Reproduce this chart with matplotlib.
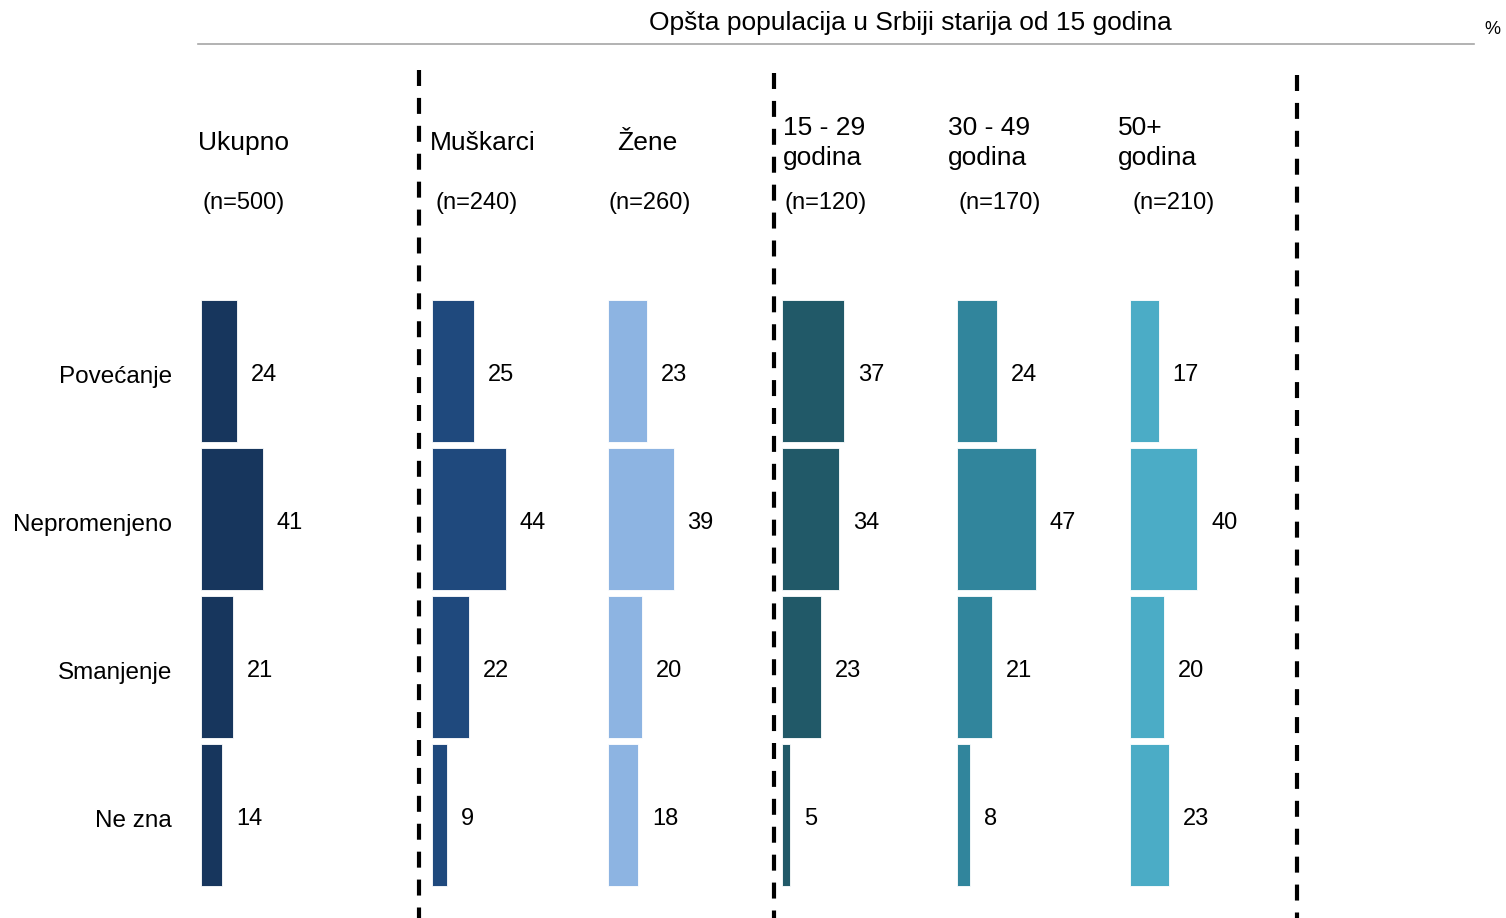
import matplotlib
matplotlib.use("Agg")
import matplotlib.pyplot as plt
from matplotlib.lines import Line2D
from matplotlib.transforms import ScaledTranslation

plt.rcParams['font.family'] = ['Liberation Sans', 'DejaVu Sans']
plt.rcParams['lines.scale_dashes'] = False

W, H = 1506, 918

# data
categories = ["Povećanje", "Nepromenjeno", "Smanjenje", "Ne zna"]
groups = ["Ukupno", "Muškarci", "Žene", "15 - 29\ngodina", "30 - 49\ngodina", "50+\ngodina"]
sample_sizes = ["(n=500)", "(n=240)", "(n=260)", "(n=120)", "(n=170)", "(n=210)"]
ukupno = [24, 41, 21, 14]
muskarci = [25, 44, 22, 9]
zene = [23, 39, 20, 18]
age_15_29 = [37, 34, 23, 5]
age_30_49 = [24, 47, 21, 8]
age_50 = [17, 40, 20, 23]
series = [ukupno, muskarci, zene, age_15_29, age_30_49, age_50]

colors = ["#17365d", "#1f497d", "#8db4e2", "#215968", "#31859c", "#4bacc6"]
bar_left = [201, 432, 608, 782, 957, 1130]      # px where bars start
px_per_unit = [1.5, 1.68, 1.68, 1.68, 1.68, 1.68]
head_x = [198, 430, 617, 783, 948, 1118]
n_x = [203, 435, 609, 784, 958, 1133]

fs_val = 17
fs_head = 19

fig = plt.figure(figsize=(W / 100, H / 100), dpi=100)


def fx(px):
    return px / W


def fy(py):
    return 1 - py / H


ax_top, ax_bot = 297, 889
ax_w = 150
for k, vals in enumerate(series):
    ax = fig.add_axes([fx(bar_left[k]), fy(ax_bot), ax_w / W, (ax_bot - ax_top) / H])
    ypos = list(range(len(categories)))
    ax.barh(ypos, vals, height=0.96, color=colors[k], edgecolor='white', linewidth=0.6)
    ax.set_xlim(0, ax_w / px_per_unit[k])
    ax.set_ylim(len(categories) - 0.5, -0.5)
    for i, v in enumerate(vals):
        ax.annotate(str(v), (v, i), xytext=(10, -3), textcoords='offset points',
                    va='center', ha='left', fontsize=fs_val)
    for s in ax.spines.values():
        s.set_visible(False)
    ax.set_xticks([])
    if k == 0:
        ax.set_yticks(ypos)
        ax.set_yticklabels(categories, fontsize=17.5, va='center')
        ax.tick_params(axis='y', length=0, pad=21)
        # nudge the row labels down a little
        for lab in ax.get_yticklabels():
            lab.set_transform(lab.get_transform() + ScaledTranslation(0, -6 / 100, fig.dpi_scale_trans))
    else:
        ax.set_yticks([])
    ax.patch.set_alpha(0)

    # headers
    fig.text(fx(head_x[k]), fy(143), groups[k], fontsize=fs_head, ha='left', va='center',
             linespacing=1.3)
    fig.text(fx(n_x[k]), fy(203), sample_sizes[k], fontsize=fs_val, ha='left', va='center')

# title and rule
fig.text(fx(910), fy(23), "Opšta populacija u Srbiji starija od 15 godina",
         fontsize=fs_head, ha='center', va='center')
fig.text(fx(1484), fy(30), "%", fontsize=13, ha='left', va='center')
fig.add_artist(Line2D([fx(198), fx(1474)], [fy(44), fy(44)], color='#a6a6a6', lw=1.2))

# dashed separators
for x, y0 in [(419, 70), (774, 73), (1297, 75)]:
    fig.add_artist(Line2D([fx(x), fx(x)], [fy(y0), fy(H)], color='black', lw=3,
                          linestyle=(0, (11.5, 8.6))))

fig.savefig("out.png", dpi=100)
